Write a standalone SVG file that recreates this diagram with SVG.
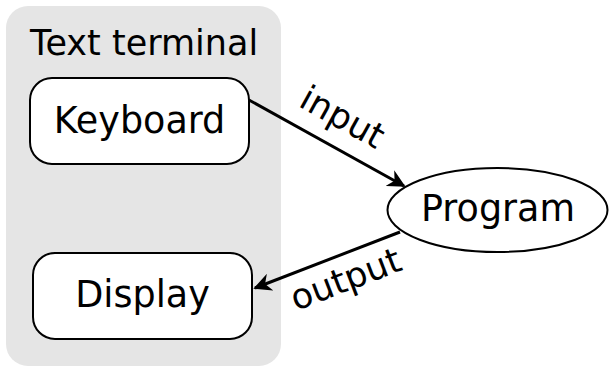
<svg xmlns="http://www.w3.org/2000/svg" width="609" height="371" viewBox="0 0 609 371">
<style>
text{font-family:"DejaVu Sans",sans-serif;fill:#000}
.node{fill:#fff;stroke:#000;stroke-width:2}
.edge{fill:none;stroke:#000;stroke-width:3}
</style>
<defs>
<marker id="ah" viewBox="0 0 10 10" refX="9" refY="5" markerWidth="6" markerHeight="6" markerUnits="strokeWidth" orient="auto">
<path d="M0,0 L10,5 L0,10 L3,5 Z" fill="#000"/>
</marker>
</defs>
<g id="terminal">
<rect x="6" y="6" width="275" height="360" rx="22" fill="#e5e5e5"/>
<text x="30" y="55" font-size="35">Text terminal</text>
</g>
<g id="keyboard">
<rect class="node" x="30" y="78" width="219" height="86" rx="22"/>
<text x="139.5" y="133" font-size="36.5" text-anchor="middle">Keyboard</text>
</g>
<g id="display">
<rect class="node" x="33" y="253" width="219" height="86" rx="22"/>
<text x="142.5" y="307" font-size="36.5" text-anchor="middle">Display</text>
</g>
<g id="program">
<ellipse class="node" cx="497.5" cy="210" rx="110" ry="42"/>
<text x="498" y="221" font-size="36.5" text-anchor="middle">Program</text>
</g>
<g id="connectors">
<line class="edge" x1="249" y1="100" x2="404" y2="186" marker-end="url(#ah)"/>
<line class="edge" x1="400" y1="232" x2="255" y2="288" marker-end="url(#ah)"/>
<text x="342" y="129" font-size="35" text-anchor="middle" transform="rotate(29 342 118)">input</text>
<text x="346" y="291" font-size="35" text-anchor="middle" transform="rotate(-21 346 280)">output</text>
</g>
</svg>
